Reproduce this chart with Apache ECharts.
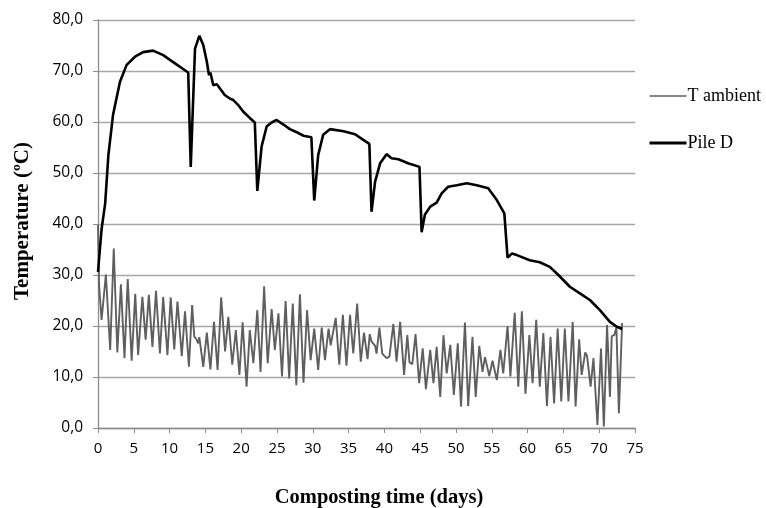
<!DOCTYPE html>
<html>
<head>
<meta charset="utf-8">
<script src="https://cdn.jsdelivr.net/npm/echarts@6/dist/echarts.min.js"></script>
<style>
  html, body { margin: 0; padding: 0; background: #fff; }
  #chart { width: 766px; height: 508px; }
</style>
</head>
<body>
<div id="chart"></div>
<script>
// Pile D temperature (days / °C)
const pileDays = [0, 0.5, 1.0, 1.45, 2.1, 3.07, 4.0, 5.17, 6.3, 7.7, 9.1, 10.75, 12.6, 12.75, 12.95,
  13.55, 14.15, 14.7, 15.2, 15.5, 15.7, 16.1, 16.6, 17.7, 18.4, 18.9, 19.6, 20.3, 21.2, 21.9,
  22.25, 22.85, 23.0, 23.55, 24.25, 24.95, 25.2, 25.9, 26.8, 27.75, 28.7, 29.8, 30.2, 30.75, 31.45,
  32.4, 34.3, 35.9, 37.05, 37.9, 38.2, 38.7, 39.4, 40.3, 41.0, 41.95, 43.3, 44.9, 45.2, 45.65,
  46.4, 47.3, 48.0, 48.9, 50.1, 51.5, 52.9, 54.5, 55.7, 56.75, 57.0, 57.2, 57.8, 58.5, 60.3,
  61.7, 63.1, 64.3, 65.9, 67.3, 68.7, 70.1, 71.5, 72.4, 73.2]
const pileTemp = [30.6, 39, 44, 53.5, 61.4, 67.9, 71.2, 72.8, 73.7, 74.0, 73.1, 71.5, 69.7, 69.5, 51.2,
  74.4, 76.9, 75.1, 71.8, 69.2, 69.7, 67.2, 67.4, 65.3, 64.6, 64.3, 63.3, 62.0, 60.8, 59.9,
  46.5, 55.2, 55.4, 59.1, 59.9, 60.4, 60.7, 59.5, 58.6, 58.0, 57.3, 57.0, 44.6, 53.5, 57.5,
  58.6, 58.2, 57.6, 56.5, 55.7, 42.4, 48.3, 51.9, 53.7, 52.9, 52.7, 51.9, 51.2, 38.4, 41.8,
  43.4, 44.2, 46.0, 47.3, 47.6, 48.0, 47.6, 47.0, 44.7, 42.1, 41.8, 33.4, 34.2, 33.9, 32.9,
  32.5, 31.6, 30.0, 27.7, 26.4, 25.1, 23.1, 20.8, 19.9, 19.4]

// ambient temperature (days / °C)
const ambDays = [0, 0.15, 0.5, 1.1, 1.7, 2.2, 2.7, 3.2, 3.7, 4.15, 4.7, 5.2, 5.6, 6.2, 6.65, 7.1, 7.6,
  8.1, 8.65, 9.1, 9.7, 10.15, 10.65, 11.1, 11.7, 12.15, 12.7, 13.15, 13.45, 13.75, 14.0, 14.15,
  14.7, 15.2, 15.7, 16.2, 16.7, 17.2, 17.75, 18.2, 18.75, 19.25, 19.75, 20.2, 20.75, 21.2, 21.7,
  22.25, 22.7, 23.2, 23.7, 24.25, 24.7, 25.2, 25.7, 26.2, 26.7, 27.2, 27.7, 28.2, 28.7, 29.2,
  29.7, 30.2, 30.75, 31.25, 31.7, 32.2, 32.5, 33.2, 33.7, 34.2, 34.7, 35.2, 35.65, 36.2, 36.7,
  37.15, 37.65, 37.95, 38.2, 38.7, 38.9, 39.3, 39.7, 40.3, 40.7, 41.25, 41.7, 42.2, 42.75, 43.2,
  43.5, 43.9, 44.35, 44.85, 45.35, 45.8, 46.4, 46.85, 47.3, 47.8, 48.25, 48.7, 49.2, 49.7, 50.25,
  50.7, 51.25, 51.7, 52.3, 52.75, 53.25, 53.7, 54.05, 54.65, 55.1, 55.7, 56.2, 56.6, 57.2, 57.6,
  58.2, 58.7, 59.2, 59.7, 60.25, 60.7, 61.2, 61.7, 62.2, 62.7, 63.2, 63.7, 64.2, 64.7, 65.2,
  65.7, 66.3, 66.7, 67.2, 67.55, 68.05, 68.3, 68.8, 69.2, 69.75, 70.25, 70.65, 71.1, 71.5, 71.75,
  72.1, 72.4, 72.75, 73.2]
const ambTemp = [39.8, 28, 21.2, 30.1, 15.3, 35.2, 14.8, 28.2, 13.7, 29.2, 13.2, 26.3, 14.3, 25.7, 17.3, 26.1, 15.9,
  26.9, 14.6, 25.7, 14.3, 25.6, 15.4, 24.8, 14.1, 22.9, 12.0, 24.1, 17.9, 17.4, 16.6, 17.8,
  12.0, 18.7, 11.5, 20.8, 11.4, 25.6, 15.0, 21.8, 12.4, 19.2, 10.4, 20.7, 8.1, 19.2, 12.7,
  23.1, 11.0, 27.8, 12.7, 23.3, 15.3, 22.5, 10.1, 24.9, 9.7, 24.4, 8.4, 26.2, 8.9, 23.1,
  13.3, 19.5, 11.4, 19.7, 13.3, 19.5, 16.2, 21.6, 12.4, 22.2, 12.2, 22.2, 14.6, 24.4, 13.0,
  18.7, 13.5, 18.4, 17.0, 16.1, 14.6, 19.7, 14.6, 13.7, 14.0, 20.4, 13.0, 20.8, 10.4, 18.2,
  12.9, 12.5, 18.4, 8.8, 15.6, 7.6, 15.3, 8.8, 15.9, 6.1, 18.2, 10.7, 16.3, 6.5, 16.6,
  4.2, 20.7, 4.3, 17.9, 6.1, 16.1, 11.0, 13.9, 10.2, 13.2, 9.4, 15.3, 10.7, 20.0, 10.1,
  22.6, 8.1, 22.9, 6.7, 18.2, 8.8, 21.2, 8.1, 18.6, 4.3, 17.9, 4.8, 19.5, 5.2, 19.5,
  5.2, 20.8, 4.2, 17.4, 10.4, 14.8, 14.2, 8.1, 13.7, 0.6, 15.6, 0.3, 20.2, 6.1, 18.0,
  18.2, 19.7, 2.9, 20.6]

const seriesNames = ['T ambient', 'Pile D']

const chartInstance = echarts.init(document.getElementById('chart'))
const serif = '"Liberation Serif", "Times New Roman", serif'
const gridColor = '#a6a6a6'

chartInstance.setOption({
  animation: false,
  grid: { left: 98, right: 131, top: 20, bottom: 80 },
  legend: {
    orient: 'vertical',
    left: 643,
    top: 82,
    itemWidth: 37,
    itemHeight: 14,
    itemGap: 29,
    data: [
      { name: seriesNames[0], lineStyle: { width: 1.5 } },
      { name: seriesNames[1], lineStyle: { width: 3 } },
    ],
    itemStyle: { opacity: 0 },
    textStyle: { fontFamily: serif, fontSize: 18, color: '#000', padding: [0, 0, 0, -4] },
  },
  xAxis: {
    type: 'value',
    min: 0,
    max: 75,
    interval: 5,
    axisLine: { lineStyle: { color: '#8c8c8c', width: 1.3 } },
    axisTick: { show: true, length: 5, lineStyle: { color: '#8c8c8c' } },
    axisLabel: { margin: 13, color: '#000', fontFamily: '"Open Sans", sans-serif', fontSize: 15 },
    splitLine: { show: false },
  },
  yAxis: {
    type: 'value',
    min: 0,
    max: 80,
    interval: 10,
    axisLine: { show: true, lineStyle: { color: '#8c8c8c', width: 1.3 } },
    axisTick: { show: true, length: 5, lineStyle: { color: '#8c8c8c' } },
    axisLabel: {
      margin: 15,
      color: '#000',
      fontFamily: '"Open Sans", sans-serif',
      fontSize: 15.5,
      formatter: v => v.toFixed(1).replace('.', ','),
    },
    splitLine: { lineStyle: { color: gridColor, width: 1.3 } },
  },
  graphic: [
    {
      type: 'text',
      x: 379,
      y: 498,
      style: {
        text: 'Composting time (days)',
        font: 'bold 20.5px ' + serif,
        fill: '#000',
        align: 'center',
        verticalAlign: 'middle',
      },
    },
    {
      type: 'text',
      x: 23,
      y: 221,
      rotation: Math.PI / 2,
      style: {
        text: 'Temperature (ºC)',
        font: 'bold 21px ' + serif,
        fill: '#000',
        align: 'center',
        verticalAlign: 'middle',
      },
    },
  ],
  series: [
    {
      name: seriesNames[0],
      type: 'line',
      symbol: 'none',
      data: ambDays.map((d, i) => [d, ambTemp[i]]),
      lineStyle: { color: '#5f5f5f', width: 1.9 },
      itemStyle: { color: '#5f5f5f' },
    },
    {
      name: seriesNames[1],
      type: 'line',
      symbol: 'none',
      data: pileDays.map((d, i) => [d, pileTemp[i]]),
      lineStyle: { color: '#000', width: 2.6 },
      itemStyle: { color: '#000' },
    },
  ],
})
</script>
</body>
</html>
